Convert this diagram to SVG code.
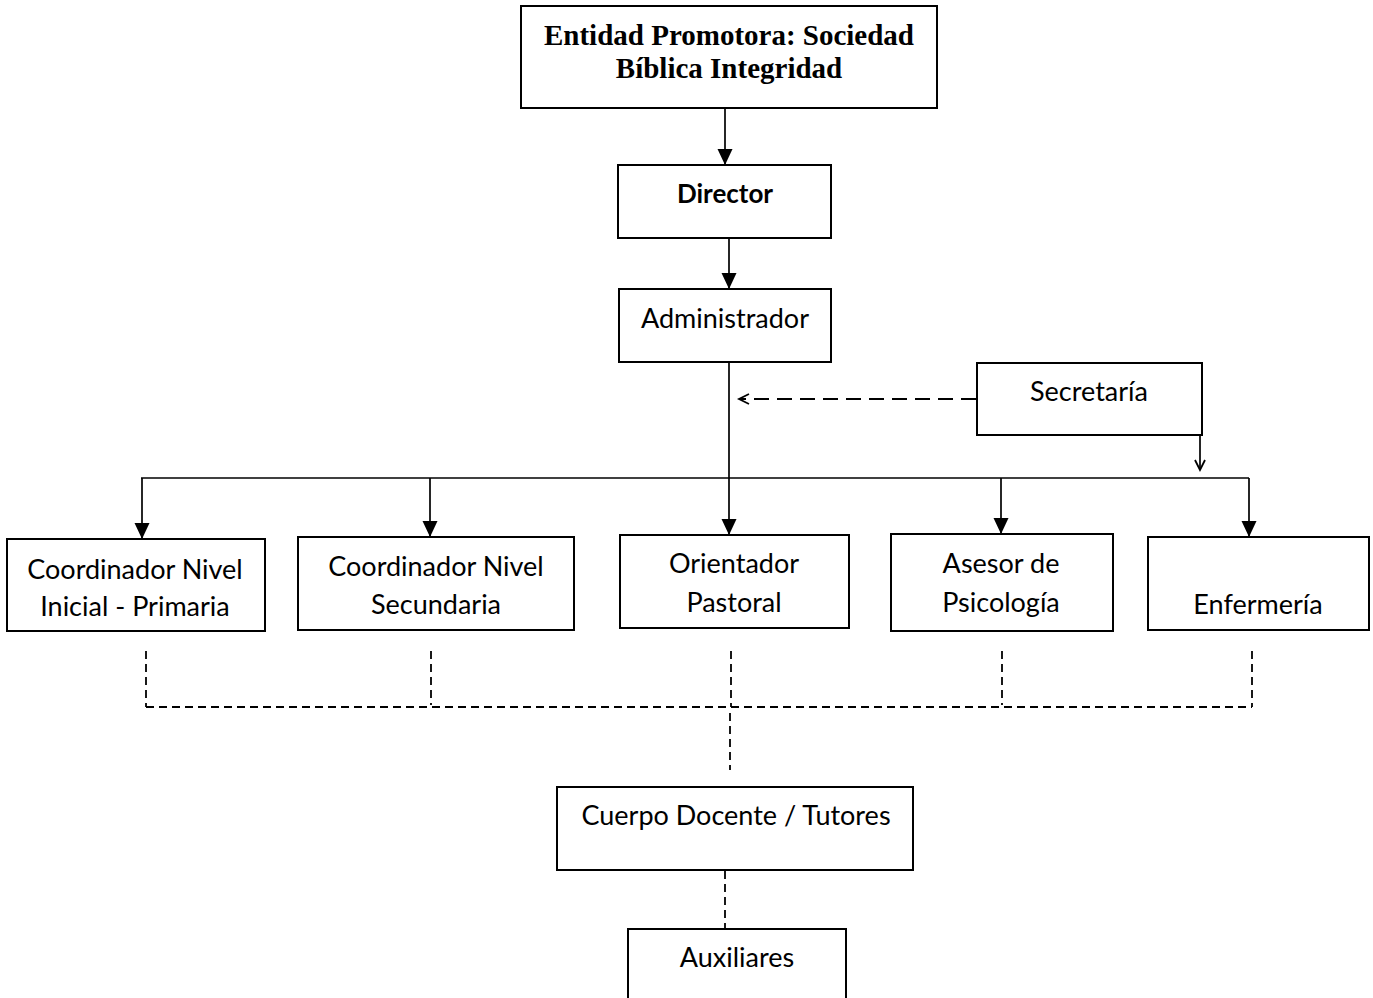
<svg xmlns="http://www.w3.org/2000/svg" width="1373" height="998" viewBox="0 0 1373 998">
<defs>
<marker id="arr" markerUnits="userSpaceOnUse" markerWidth="17" markerHeight="16" refX="16" refY="7.5" orient="auto">
<path d="M0,0 L16,7.5 L0,15 z" fill="#000"/>
</marker>
<marker id="open" markerUnits="userSpaceOnUse" markerWidth="14" markerHeight="14" refX="11" refY="6" orient="auto">
<path d="M1,1 L11,6 L1,11" fill="none" stroke="#000" stroke-width="1.8"/>
</marker>
<style>
.box{fill:#fff;stroke:#000;stroke-width:2}
.t{font-family:Lato,"Open Sans",sans-serif;font-size:27px;fill:#000;text-anchor:middle}
.b{font-weight:bold;font-size:26px}
.tt{font-family:"Liberation Serif","Times New Roman",serif;font-size:29px;font-weight:bold;fill:#000;text-anchor:middle}
.c{stroke:#000;stroke-width:1.7;fill:none}
.d{stroke:#000;stroke-width:1.8;fill:none;stroke-dasharray:8 5}
.dl{stroke:#000;stroke-width:1.8;fill:none;stroke-dasharray:15 8}
</style>
</defs>
<rect width="1373" height="998" fill="#fff"/>
<g id="connectors">
<line class="c" x1="725" y1="108" x2="725" y2="165" marker-end="url(#arr)"/>
<line class="c" x1="729" y1="238" x2="729" y2="289" marker-end="url(#arr)"/>
<line class="c" x1="729" y1="362" x2="729" y2="535" marker-end="url(#arr)"/>
<line class="dl" x1="976" y1="399" x2="739" y2="399" marker-end="url(#open)"/>
<line class="c" x1="1200" y1="435" x2="1200" y2="470" marker-end="url(#open)"/>
<line class="c" x1="141" y1="478" x2="1249" y2="478"/>
<line class="c" x1="142" y1="478" x2="142" y2="539" marker-end="url(#arr)"/>
<line class="c" x1="430" y1="478" x2="430" y2="537" marker-end="url(#arr)"/>
<line class="c" x1="1001" y1="478" x2="1001" y2="534" marker-end="url(#arr)"/>
<line class="c" x1="1249" y1="478" x2="1249" y2="537" marker-end="url(#arr)"/>
<line class="d" x1="146" y1="651" x2="146" y2="707"/>
<line class="d" x1="431" y1="651" x2="431" y2="705"/>
<line class="d" x1="731" y1="651" x2="731" y2="707"/>
<line class="d" x1="1002" y1="651" x2="1002" y2="705"/>
<line class="d" x1="1252" y1="651" x2="1252" y2="707"/>
<line class="d" x1="146" y1="707" x2="1252" y2="707"/>
<line class="d" x1="730" y1="713" x2="730" y2="770"/>
<line class="d" x1="725" y1="871" x2="725" y2="928"/>
</g>
<g id="entidad">
<rect class="box" x="521" y="6" width="416" height="102"/>
<text class="tt" x="729" y="45">Entidad Promotora: Sociedad</text>
<text class="tt" x="729" y="78">Bíblica Integridad</text>
</g>
<g id="director">
<rect class="box" x="618" y="165" width="213" height="73"/>
<text class="t b" x="725" y="203">Director</text>
</g>
<g id="administrador">
<rect class="box" x="619" y="289" width="212" height="73"/>
<text class="t" x="725" y="328">Administrador</text>
</g>
<g id="secretaria">
<rect class="box" x="977" y="363" width="225" height="72"/>
<text class="t" x="1089" y="401">Secretaría</text>
</g>
<g id="coord-inicial">
<rect class="box" x="7" y="539" width="258" height="92"/>
<text class="t" x="135" y="579">Coordinador Nivel</text>
<text class="t" x="135" y="616">Inicial - Primaria</text>
</g>
<g id="coord-secundaria">
<rect class="box" x="298" y="537" width="276" height="93"/>
<text class="t" x="436" y="576">Coordinador Nivel</text>
<text class="t" x="436" y="614">Secundaria</text>
</g>
<g id="orientador">
<rect class="box" x="620" y="535" width="229" height="93"/>
<text class="t" x="734" y="573">Orientador</text>
<text class="t" x="734" y="612">Pastoral</text>
</g>
<g id="asesor">
<rect class="box" x="891" y="534" width="222" height="97"/>
<text class="t" x="1001" y="573">Asesor de</text>
<text class="t" x="1001" y="612">Psicología</text>
</g>
<g id="enfermeria">
<rect class="box" x="1148" y="537" width="221" height="93"/>
<text class="t" x="1258" y="614">Enfermería</text>
</g>
<g id="cuerpo-docente">
<rect class="box" x="557" y="787" width="356" height="83"/>
<text class="t" x="736" y="825">Cuerpo Docente / Tutores</text>
</g>
<g id="auxiliares">
<rect class="box" x="628" y="929" width="218" height="80"/>
<text class="t" x="737" y="967">Auxiliares</text>
</g>
</svg>
